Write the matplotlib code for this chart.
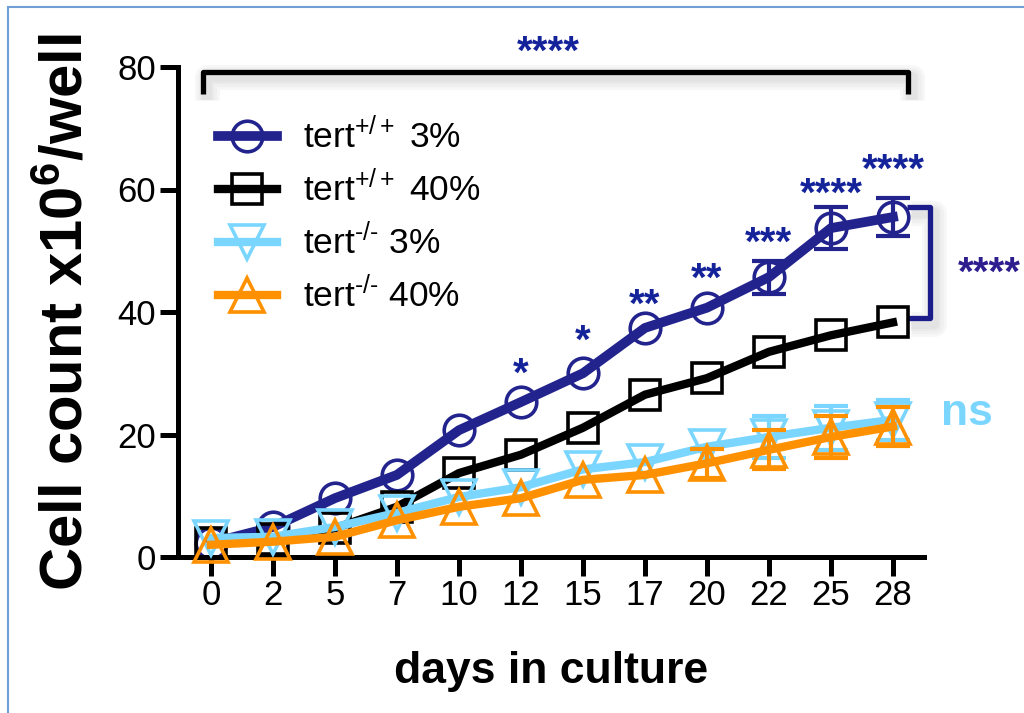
import numpy as np
import matplotlib.pyplot as plt
import matplotlib.patheffects as pe
from matplotlib.patches import Rectangle

plt.rcParams['font.family'] = ['Liberation Sans', 'DejaVu Sans']
plt.rcParams['mathtext.fontset'] = 'custom'
plt.rcParams['mathtext.rm'] = 'Liberation Sans'
plt.rcParams['mathtext.it'] = 'Liberation Sans'
plt.rcParams['mathtext.bf'] = 'Liberation Sans:bold'

# days (categorical, evenly spaced on the axis)
days = ['0', '2', '5', '7', '10', '12', '15', '17', '20', '22', '25', '28']

# mean cell counts (x10^6 / well)
wt_3 = [2.3, 4.9, 9.6, 13.4, 20.7, 25.3, 30.0, 37.4, 40.7, 45.7, 53.7, 55.5]
wt_40 = [2.3, 3.0, 4.7, 8.2, 13.7, 16.7, 21.1, 26.5, 29.2, 33.5, 36.2, 38.3]
ko_3 = [3.1, 3.3, 4.9, 7.2, 9.8, 11.4, 14.3, 15.5, 18.0, 19.6, 21.1, 22.4]
ko_40 = [2.0, 2.5, 3.3, 6.0, 8.2, 9.6, 12.6, 13.4, 15.3, 17.5, 19.6, 21.3]

# error bars (0 = hidden behind the symbol)
wt_3_err = [0, 0, 0, 0, 0, 0, 0, 0, 0, 2.7, 3.4, 3.1]
wt_40_err = [0, 0, 0, 0, 0, 0, 0, 0, 0, 0, 0, 0]
ko_3_err = [0, 0, 0, 0, 0, 0, 0, 0, 0, 3.4, 3.6, 3.3]
ko_40_err = [0, 0, 0, 0, 0, 0, 0, 0, 2.4, 3.2, 3.5, 3.2]

# significance stars above tert+/+ 3% (index, label, y of star centre)
star_idx = [5, 6, 7, 8, 9, 10, 11]
star_lbl = ['*', '*', '**', '**', '***', '****', '****']
star_y = [31.7, 37.1, 43.1, 47.2, 53.1, 61.1, 65.1]

c_blue = '#23238e'
c_black = '#000000'
c_light = '#7ad6ff'
c_orange = '#ff9100'
c_star = '#15239a'

fig = plt.figure(figsize=(10.24, 7.13), dpi=100)
ax = fig.add_axes([178 / 1024, 1 - 557 / 713, (924 - 178) / 1024, (557 - 67) / 713])

x = np.arange(len(days))
series = [
    (wt_3, wt_3_err, c_blue, 'o', 22, 7, r'tert$^{+/+}$3%'),
    (wt_40, wt_40_err, c_black, 's', 21, 6, r'tert$^{+/+}$40%'),
    (ko_3, ko_3_err, c_light, 'v', 24, 6, r'tert$^{\text{-/-}}$3%'),
    (ko_40, ko_40_err, c_orange, '^', 24, 6, r'tert$^{\text{-/-}}$40%'),
]
handles = []
for z, (vals, err, col, mk, ms, lw, lab) in enumerate(series):
    vals = np.array(vals)
    err = np.array(err)
    m = err > 0
    if m.any():
        ax.errorbar(x[m], vals[m], yerr=err[m], fmt='none', ecolor=col,
                    elinewidth=3, capsize=12, capthick=3, zorder=2 + z, clip_on=False)
    ln, = ax.plot(x, vals, color=col, lw=lw, marker=mk, ms=ms, mfc='none',
                  mec=col, mew=2.6, zorder=2 + z, clip_on=False,
                  label=lab.replace('$3', '$ 3').replace('$4', '$ 4'))
    handles.append(ln)

ax.set_xlim(-0.53, 11.5)
ax.set_ylim(0, 80)
ax.set_xticks(x)
ax.set_xticklabels(days)
ax.set_yticks([0, 20, 40, 60, 80])
ax.spines['top'].set_visible(False)
ax.spines['right'].set_visible(False)
for s in ['left', 'bottom']:
    ax.spines[s].set_linewidth(3.6)
ax.tick_params(axis='both', width=3.6, labelsize=25)
ax.tick_params(axis='x', length=14, pad=2)
ax.tick_params(axis='y', length=13, pad=3)

ax.set_xlabel('days in culture', fontsize=32, fontweight='bold', labelpad=28)
ax.set_ylabel(r'Cell count x10$^{\mathbf{6}}$/well', fontsize=43,
              fontweight='bold')
ax.yaxis.set_label_coords(-0.112, 0.5)

ax.legend(handles=handles, loc='upper left', bbox_to_anchor=(0.035, 0.925),
          frameon=False, fontsize=25.5, handlelength=1.65, handletextpad=0.75,
          labelspacing=0.45, borderaxespad=0)

# stars over tert+/+ 3%
fs = 29
for i, lbl, yy in zip(star_idx, star_lbl, star_y):
    ax.annotate(lbl, xy=(i, yy), xytext=(0, -0.58 * fs), textcoords='offset points',
                ha='center', va='baseline', fontsize=fs, fontweight='bold',
                color=c_star, annotation_clip=False)

# soft drop shadow for the brackets
shadow = [pe.SimpleLineShadow(offset=(3, -4), shadow_color='#999999', alpha=0.07,
                              linewidth=w) for w in (18, 14, 10, 7)]
shadow.append(pe.Normal())

# top bracket: all groups
ax.plot([-0.13, -0.13, 11.24, 11.24], [75.6, 79.2, 79.2, 75.6], color='black',
        lw=3.8, clip_on=False, solid_capstyle='butt', path_effects=shadow)
ax.annotate('****', xy=(5.45, 84.4), xytext=(0, -0.58 * fs), textcoords='offset points',
            ha='center', va='baseline', fontsize=fs, fontweight='bold',
            color=c_star, annotation_clip=False)

# right bracket: 3% vs 40% in tert+/+
ax.plot([11.23, 11.6, 11.6, 11.23], [57.1, 57.1, 39.0, 39.0], color='#1c1c8a',
        lw=3.8, clip_on=False, solid_capstyle='butt', path_effects=shadow)
ax.annotate('****', xy=(12.56, 48.2), xytext=(0, -0.58 * fs), textcoords='offset points',
            ha='center', va='baseline', fontsize=fs, fontweight='bold',
            color='#2d1d8e', annotation_clip=False)
ax.text(12.2, 23.5, 'ns', ha='center', va='center', fontsize=32,
        fontweight='bold', color=c_light, clip_on=False)

# thin frame around the panel
fig.patches.append(Rectangle((8 / 1024, -0.05), 1.2, 1.05 - 7 / 713,
                             transform=fig.transFigure, fill=False,
                             edgecolor='#6f9fd4', lw=1.5))

fig.savefig('out.png', dpi=100)
